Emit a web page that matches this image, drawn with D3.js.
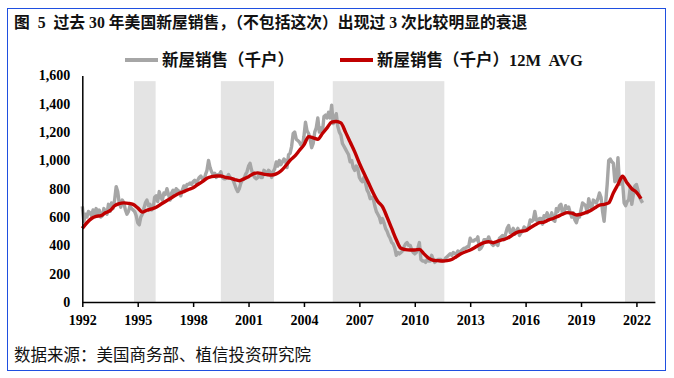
<!DOCTYPE html>
<html>
<head>
<meta charset="utf-8">
<script src="https://cdn.jsdelivr.net/npm/d3@7"></script>
<style>
  body { margin: 0; background: #fff; }
  svg { display: block; }
  text { white-space: pre; }
</style>
</head>
<body>
<div id="chart"></div>
<script>
// monthly new home sales (thousands), Jan 1992 .. May 2022
const sales = [
  676, 570, 620, 600, 640, 630, 610, 650, 620, 660, 620, 650,   // 1992
  600, 610, 660, 640, 620, 690, 640, 700, 660, 720, 815, 780,   // 1993
  700, 670, 720, 700, 650, 620, 640, 680, 660, 650, 640, 610,   // 1994
  560, 545, 600, 620, 660, 700, 720, 680, 690, 650, 660, 740,   // 1995
  750, 710, 780, 740, 720, 770, 760, 800, 760, 720, 770, 790,   // 1996
  760, 800, 790, 780, 750, 790, 820, 800, 830, 830, 840, 830,   // 1997
  850, 860, 840, 860, 880, 890, 870, 860, 900, 930, 1000, 950,  // 1998
  920, 900, 910, 880, 900, 900, 920, 880, 870, 870, 880, 900,   // 1999
  880, 870, 860, 830, 800, 780, 800, 840, 860, 870, 900, 920,   // 2000
  960, 980, 930, 900, 880, 870, 880, 900, 880, 880, 930, 920,   // 2001
  900, 930, 920, 880, 920, 940, 990, 960, 1000, 970, 990, 1010, // 2002
  1000, 950, 1040, 1050, 1100, 1190, 1200, 1150, 1140, 1130, 1110, 1100, // 2003
  1170, 1270, 1210, 1190, 1150, 1090, 1120, 1200, 1230, 1300, 1200, 1230, // 2004
  1200, 1310, 1320, 1300, 1340, 1300, 1390, 1260, 1300, 1330, 1240, 1200, // 2005
  1180, 1120, 1100, 1080, 1060, 1040, 990, 1000, 950, 930, 960, 940,     // 2006
  880, 860, 850, 880, 840, 790, 770, 730, 740, 730, 680, 640,   // 2007
  620, 600, 560, 590, 560, 520, 500, 470, 450, 420, 410, 380,   // 2008
  330, 350, 340, 350, 360, 390, 410, 420, 400, 400, 370, 350,   // 2009
  340, 350, 380, 420, 300, 290, 290, 280, 300, 290, 290, 330,   // 2010
  300, 280, 290, 300, 300, 300, 290, 290, 310, 320, 330, 340,   // 2011
  330, 350, 340, 340, 360, 350, 360, 370, 380, 380, 390, 390,   // 2012
  450, 430, 430, 440, 440, 460, 370, 380, 400, 440, 440, 430,   // 2013
  460, 430, 410, 400, 420, 410, 400, 450, 460, 470, 440, 480,   // 2014
  520, 540, 490, 500, 520, 480, 500, 520, 470, 490, 500, 530,   // 2015
  520, 520, 530, 580, 570, 580, 640, 580, 570, 590, 590, 550,   // 2016
  610, 600, 630, 580, 600, 630, 580, 570, 660, 640, 680, 690,   // 2017
  620, 640, 680, 660, 670, 630, 600, 630, 580, 560, 600, 600,   // 2018
  650, 700, 690, 680, 630, 730, 680, 660, 720, 710, 700, 730,   // 2019
  770, 740, 640, 570, 700, 830, 1000, 1010, 990, 980, 850, 860, // 2020
  1020, 830, 880, 850, 700, 680, 710, 720, 810, 690, 760, 820,  // 2021
  830, 790, 740, 720, 700                                        // 2022
];

// 12M average, read quarterly (Jan, Apr, Jul, Oct), 1992 .. Apr 2022
const avg12 = [
  520, 560, 590, 605,     // 1992
  610, 630, 645, 680,     // 1993
  695, 700, 697, 690,     // 1994
  665, 635, 648, 658,     // 1995
  670, 690, 710, 730,     // 1996
  750, 768, 780, 795,     // 1997
  807, 830, 850, 875,     // 1998
  885, 890, 890, 880,     // 1999
  875, 865, 857, 870,     // 2000
  885, 905, 912, 905,     // 2001
  900, 897, 905, 925,     // 2002
  960, 1000, 1030, 1070,  // 2003
  1110, 1168, 1160, 1150, // 2004
  1190, 1230, 1270, 1275, // 2005
  1265, 1200, 1130, 1060, // 2006
  980, 909, 840, 770,     // 2007
  710, 673, 600, 520,     // 2008
  440, 379, 370, 367,     // 2009
  367, 372, 340, 310,     // 2010
  295, 292, 290, 292,     // 2011
  300, 320, 340, 355,     // 2012
  367, 385, 405, 420,     // 2013
  426, 419, 430, 440,     // 2014
  450, 470, 490, 500,     // 2015
  504, 525, 544, 560,     // 2016
  565, 580, 590, 605,     // 2017
  620, 631, 628, 615,     // 2018
  620, 631, 645, 665,     // 2019
  685, 690, 700, 770,     // 2020
  830, 888, 840, 800,     // 2021
  775, 730                // 2022
];

// shaded periods (start year, end year)
const recessions = [[1994.8, 1995.97], [1999.5, 2002.38], [2005.56, 2011.6], [2021.38, 2023]];
const shadeTop = 1560;

const xTicks = d3.range(1992, 2023, 3);
const yTicks = d3.range(0, 1601, 200);

const title = "图  5  过去 30 年美国新屋销售，（不包括这次）出现过 3 次比较明显的衰退";
const legendNames = ["新屋销售（千户）", "新屋销售（千户）12M  AVG"];
const source = "数据来源：美国商务部、植信投资研究院";

const W = 674, H = 378;
const grayCol = "#a6a6a6", redCol = "#c00000";
const fontNum = "'Liberation Serif', 'Noto Sans CJK SC', serif";

const svg = d3.select("#chart").append("svg").attr("width", W).attr("height", H);

// frame
svg.append("rect")
  .attr("x", 7.5).attr("y", 8.5).attr("width", 658).attr("height", 362)
  .attr("fill", "none").attr("stroke", "#1f4fe0").attr("stroke-width", 1);

svg.append("text")
  .attr("x", 14).attr("y", 28)
  .style("font-family", fontNum).style("font-weight", "bold").style("font-size", "15.8px")
  .attr("fill", "#111")
  .text(title);

const x = d3.scaleLinear().domain([1992, 2023]).range([82.3, 654.9]);
const y = d3.scaleLinear().domain([0, 1600]).range([302, 75.5]);

// shading
svg.append("g").selectAll("rect").data(recessions).enter().append("rect")
  .attr("x", d => x(d[0]))
  .attr("width", d => x(d[1]) - x(d[0]))
  .attr("y", y(shadeTop))
  .attr("height", y(0) - y(shadeTop))
  .attr("fill", "#e4e4e4");

const salesPts = sales.map((v, i) => [1992 + i / 12, v]);
const avgPts = avg12.map((v, i) => [1992 + i / 4, v]);

const line = d3.line().x(d => x(d[0])).y(d => y(d[1]));

svg.append("path").datum(salesPts)
  .attr("d", line)
  .attr("fill", "none").attr("stroke", grayCol).attr("stroke-width", 3.4)
  .attr("stroke-linejoin", "round");

svg.append("path").datum(avgPts)
  .attr("d", line.curve(d3.curveMonotoneX))
  .attr("fill", "none").attr("stroke", redCol).attr("stroke-width", 3.4)
  .attr("stroke-linejoin", "round");

// axes
const xAxis = svg.append("g")
  .attr("transform", "translate(0," + y(0) + ")")
  .call(d3.axisBottom(x).tickValues(xTicks).tickFormat(d3.format("d")).tickSize(5).tickSizeOuter(0));
xAxis.select(".domain").attr("stroke", "#000").attr("stroke-width", 1.5);
xAxis.selectAll(".tick line").attr("stroke", "#000").attr("stroke-width", 1.5);
xAxis.selectAll("text")
  .attr("dy", "1.05em")
  .style("font-family", fontNum).style("font-weight", "bold").style("font-size", "14px").attr("fill", "#000");

const yAxis = svg.append("g")
  .attr("transform", "translate(" + x(1992) + ",0)")
  .call(d3.axisLeft(y).tickValues(yTicks).tickFormat(d3.format(",")).tickSize(0).tickPadding(12));
yAxis.select(".domain").attr("stroke", "#000").attr("stroke-width", 1.5);
yAxis.selectAll("text")
  .style("font-family", fontNum).style("font-weight", "bold").style("font-size", "14px").attr("fill", "#000");

// legend
const legend = svg.append("g").attr("transform", "translate(0,60)");
[[125, grayCol], [340, redCol]].forEach((d, i) => {
  legend.append("line")
    .attr("x1", d[0]).attr("x2", d[0] + 33).attr("y1", 0).attr("y2", 0)
    .attr("stroke", d[1]).attr("stroke-width", 4);
  legend.append("text")
    .attr("x", d[0] + 37).attr("y", 5.5)
    .style("font-family", fontNum).style("font-weight", "bold").style("font-size", "16.5px")
    .attr("fill", "#111")
    .text(legendNames[i]);
});

svg.append("text")
  .attr("x", 14).attr("y", 361)
  .style("font-family", "'Noto Sans CJK SC', sans-serif").style("font-size", "16.5px")
  .attr("fill", "#111")
  .text(source);
</script>
</body>
</html>
